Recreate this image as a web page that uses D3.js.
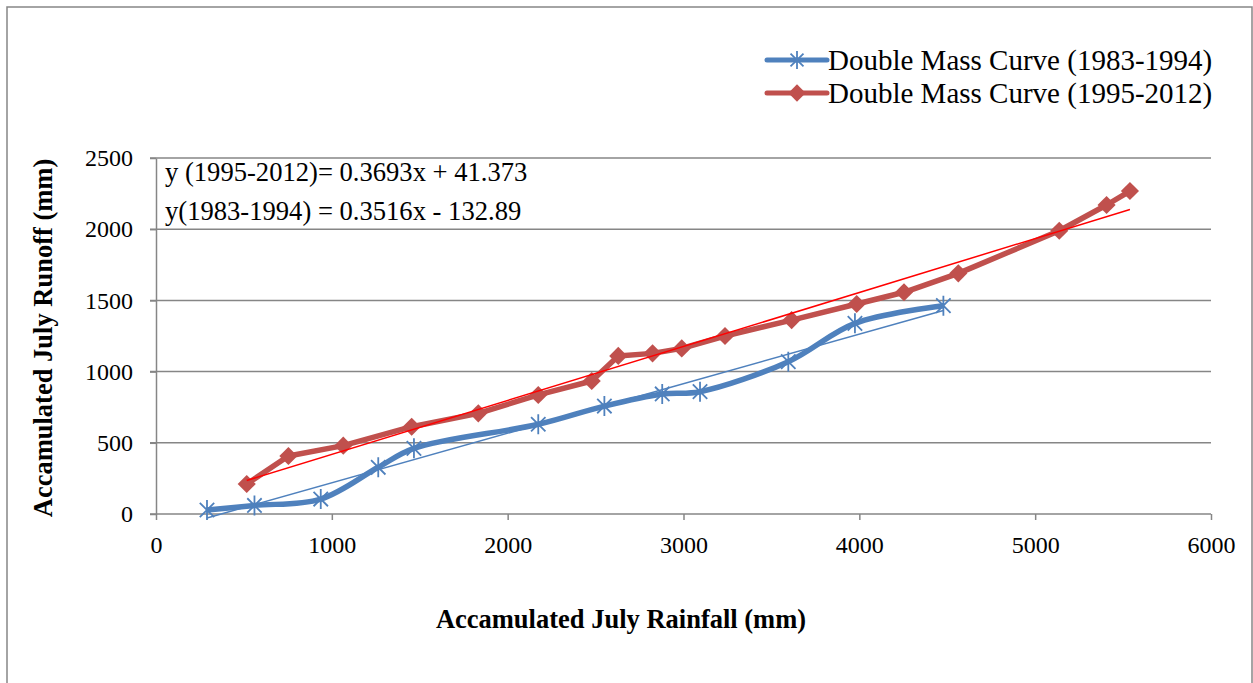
<!DOCTYPE html>
<html>
<head>
<meta charset="utf-8">
<script src="https://cdn.jsdelivr.net/npm/d3@7"></script>
<style>
  body { margin: 0; background: #fff; }
  text { font-family: "Liberation Serif", "Times New Roman", serif; fill: #000; }
</style>
</head>
<body>
<div id="chart"></div>
<script>
// data
var rainfall8394 = [290, 560, 937, 1264, 1467, 2174, 2550, 2879, 3094, 3596, 3975, 4478];
var runoff8394   = [28, 60, 105, 328, 461, 630, 758, 843, 859, 1070, 1339, 1463];
var rainfall9512 = [516, 753, 1065, 1454, 1833, 2174, 2478, 2629, 2824, 2990, 3236, 3615, 3985, 4254, 4563, 5137, 5406, 5539];
var runoff9512   = [211, 407, 480, 613, 707, 836, 934, 1110, 1128, 1163, 1250, 1362, 1475, 1557, 1690, 1989, 2170, 2268];
var xTicks = [0, 1000, 2000, 3000, 4000, 5000, 6000];
var yTicks = [0, 500, 1000, 1500, 2000, 2500];
var seriesNames = ["Double Mass Curve (1983-1994)", "Double Mass Curve (1995-2012)"];
var equations = ["y (1995-2012)= 0.3693x + 41.373", "y(1983-1994) = 0.3516x - 132.89"];

var W = 1253, H = 683;
var margin = {top: 158, right: 42, bottom: 169, left: 156},
    width = W - margin.left - margin.right,
    height = H - margin.top - margin.bottom;

var blue = "#4F81BD", red = "#C0504D", grid = "#868686";

var svg = d3.select("#chart").append("svg")
    .attr("width", W)
    .attr("height", H);

// outer frame
svg.append("rect")
    .attr("x", 7).attr("y", 7)
    .attr("width", 1245).attr("height", 700)
    .attr("fill", "none")
    .attr("stroke", grid)
    .attr("stroke-width", 1.5);

var g = svg.append("g")
    .attr("transform", "translate(" + margin.left + "," + margin.top + ")");

var x = d3.scaleLinear().domain([0, 6000]).range([0, width]);
var y = d3.scaleLinear().domain([0, 2500]).range([height, 0]);

// gridlines
g.selectAll(".grid")
    .data(yTicks)
    .enter().append("line")
    .attr("x1", -6).attr("x2", width)
    .attr("y1", function (d) { return y(d); })
    .attr("y2", function (d) { return y(d); })
    .attr("stroke", grid)
    .attr("stroke-width", 1.5);

var xAxis = g.append("g")
    .attr("transform", "translate(0," + height + ")")
    .call(d3.axisBottom(x).tickValues(xTicks).tickFormat(d3.format("d"))
        .tickSize(6).tickSizeOuter(0).tickPadding(16));
xAxis.select(".domain").remove();
xAxis.selectAll("line").attr("stroke", grid).attr("stroke-width", 1.5);
xAxis.selectAll("text").style("font-size", "24px").style("font-family", "Liberation Serif");

var yAxis = g.append("g")
    .call(d3.axisLeft(y).tickValues(yTicks).tickFormat(d3.format("d"))
        .tickSize(6).tickSizeOuter(0).tickPadding(17));
yAxis.select(".domain").attr("stroke", grid).attr("stroke-width", 1.5);
yAxis.selectAll("line").attr("stroke", grid).attr("stroke-width", 1.5);
yAxis.selectAll("text").style("font-size", "24px").style("font-family", "Liberation Serif");

// linear trend from data (least squares)
function trend(xs, ys) {
    var mx = d3.mean(xs), my = d3.mean(ys);
    var num = d3.sum(xs, function (v, i) { return (v - mx) * (ys[i] - my); });
    var den = d3.sum(xs, function (v) { return (v - mx) * (v - mx); });
    var b = num / den, a = my - b * mx;
    var x0 = d3.min(xs), x1 = d3.max(xs);
    return [[x0, a + b * x0], [x1, a + b * x1]];
}

var pts8394 = rainfall8394.map(function (v, i) { return [v, runoff8394[i]]; });
var pts9512 = rainfall9512.map(function (v, i) { return [v, runoff9512[i]]; });

var straight = d3.line().x(function (d) { return x(d[0]); }).y(function (d) { return y(d[1]); });
var smooth = d3.line().x(function (d) { return x(d[0]); }).y(function (d) { return y(d[1]); })
    .curve(d3.curveCatmullRom.alpha(0.5));

// series lines
g.append("path")
    .datum(pts8394)
    .attr("d", smooth)
    .attr("fill", "none")
    .attr("stroke", blue)
    .attr("stroke-width", 5.5)
    .attr("stroke-linejoin", "round");

g.append("path")
    .datum(pts9512)
    .attr("d", straight)
    .attr("fill", "none")
    .attr("stroke", red)
    .attr("stroke-width", 5.5)
    .attr("stroke-linejoin", "round");

// markers
function star(sel, cx, cy, r) {
    var k = r * 0.72;
    sel.append("path")
        .attr("d", "M" + (cx - k) + "," + (cy - k) + "L" + (cx + k) + "," + (cy + k) +
            "M" + (cx - k) + "," + (cy + k) + "L" + (cx + k) + "," + (cy - k) +
            "M" + cx + "," + (cy - r) + "L" + cx + "," + (cy + r))
        .attr("stroke", blue)
        .attr("stroke-width", 1.8)
        .attr("fill", "none");
}

pts8394.forEach(function (d) { star(g, x(d[0]), y(d[1]), 10); });

g.selectAll(".diamond")
    .data(pts9512)
    .enter().append("path")
    .attr("d", d3.symbol().type(d3.symbolDiamond2).size(210))
    .attr("transform", function (d) { return "translate(" + x(d[0]) + "," + y(d[1]) + ")"; })
    .attr("fill", red);

// trend lines
g.append("path")
    .datum(trend(rainfall8394, runoff8394))
    .attr("d", straight)
    .attr("stroke", blue)
    .attr("stroke-width", 1.5)
    .attr("fill", "none");

g.append("path")
    .datum(trend(rainfall9512, runoff9512))
    .attr("d", straight)
    .attr("stroke", "#FF0000")
    .attr("stroke-width", 1.5)
    .attr("fill", "none");

// equations
g.selectAll(".eq")
    .data(equations)
    .enter().append("text")
    .attr("x", 9)
    .attr("y", function (d, i) { return 23 + i * 39; })
    .style("font-size", "26.6px")
    .text(function (d) { return d; });

// axis titles
svg.append("text")
    .attr("x", 621)
    .attr("y", 628)
    .attr("text-anchor", "middle")
    .style("font-size", "26.5px")
    .style("font-weight", "bold")
    .text("Accamulated July Rainfall (mm)");

svg.append("text")
    .attr("transform", "translate(52," + (margin.top + height / 2 + 2) + ") rotate(-90)")
    .attr("text-anchor", "middle")
    .style("font-size", "26.5px")
    .style("font-weight", "bold")
    .text("Accamulated July Runoff (mm)");

// legend
var legend = svg.append("g").attr("transform", "translate(767,60)");
seriesNames.forEach(function (name, i) {
    var ly = i * 33;
    legend.append("line")
        .attr("x1", 0).attr("x2", 60)
        .attr("y1", ly).attr("y2", ly)
        .attr("stroke", i === 0 ? blue : red)
        .attr("stroke-width", 5)
        .attr("stroke-linecap", "round");
    if (i === 0) {
        star(legend, 30, ly, 9);
    } else {
        legend.append("path")
            .attr("d", d3.symbol().type(d3.symbolDiamond2).size(190))
            .attr("transform", "translate(30," + ly + ")")
            .attr("fill", red);
    }
    legend.append("text")
        .attr("x", 61)
        .attr("y", ly + 10)
        .style("font-size", "29px")
        .text(name);
});
</script>
</body>
</html>
